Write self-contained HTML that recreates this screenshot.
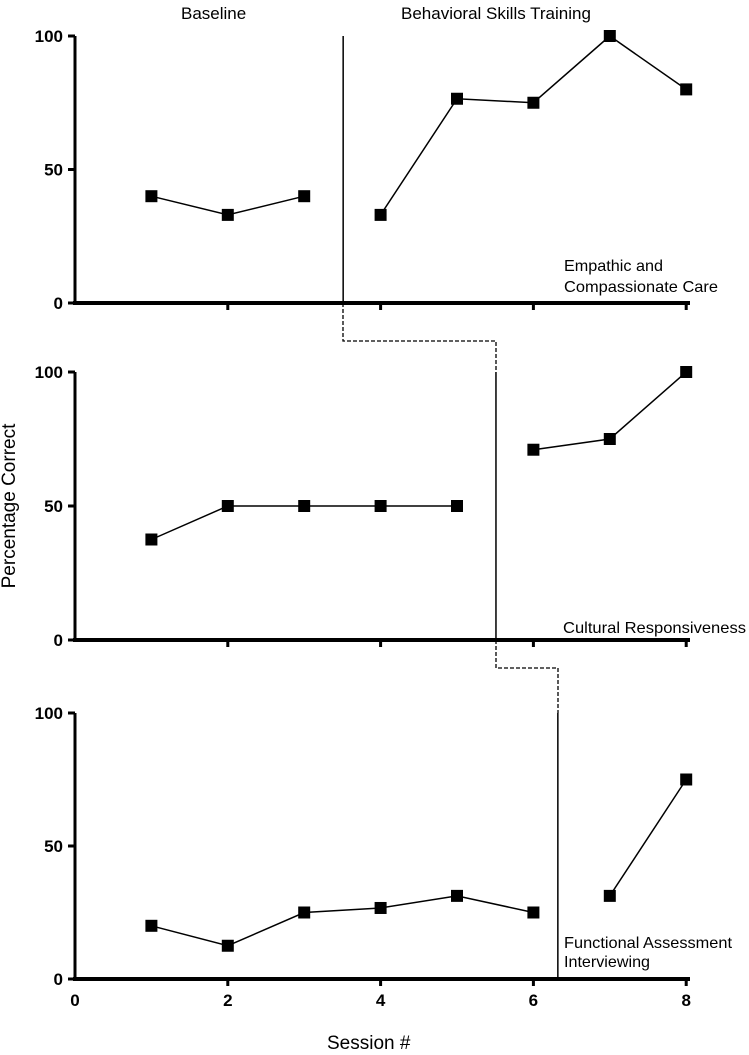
<!DOCTYPE html>
<html><head><meta charset="utf-8"><style>body{margin:0;background:#fff}svg{display:block;font-family:"Liberation Sans",Arial,sans-serif}</style></head>
<body>
<svg id="c" width="749" height="1055"></svg>
<script>
const sessions=[1,2,3,4,5,6,7,8];
const empathy=[40,33,40,33,76.5,75,100,80];
const cultural=[37.5,50,50,50,50,71,75,100];
const functional=[20,12.5,25,26.7,31.25,25,31.25,75];
const xTicks=[0,2,4,6,8];
const yTicks=[0,50,100];
const phaseChange=[3.51,5.51,6.32];
const NS="http://www.w3.org/2000/svg";
const svg=document.getElementById('c');
const X=v=>75+v*76.4;
const panels=[
 {top:36,bot:303,data:empathy,split:3,name:'empathy',label:['Empathic and','Compassionate Care'],ly:[271,292],lx:564,lw:[99,154]},
 {top:372,bot:640,data:cultural,split:5,name:'cultural',label:['Cultural Responsiveness'],ly:[633],lx:563,lw:[183]},
 {top:713,bot:979,data:functional,split:6,name:'functional',label:['Functional Assessment','Interviewing'],ly:[948,967],lx:564,lw:[168,86]}
];
function el(t,a,txt){const e=document.createElementNS(NS,t);for(const k in a)e.setAttribute(k,a[k]);if(txt!=null)e.textContent=txt;svg.appendChild(e);return e;}
panels.forEach((p,pi)=>{
 const Y=v=>p.bot-v/100*(p.bot-p.top);
 let e=el('line',{x1:75,y1:p.top,x2:75,y2:p.bot+2,stroke:'#000','stroke-width':3});
 
 
 e=el('line',{x1:73,y1:p.bot,x2:690,y2:p.bot,stroke:'#000','stroke-width':4});
 
 
 xTicks.forEach(t=>{if(t>0){const k=el('line',{x1:X(t),y1:p.bot,x2:X(t),y2:p.bot+7,stroke:'#000','stroke-width':3});}
  if(pi==2){const l=el('text',{x:X(t),y:1006,'text-anchor':'middle','font-size':17,'font-weight':'bold'},t);}});
 yTicks.forEach(t=>{const k=el('line',{x1:68,y1:Y(t),x2:75,y2:Y(t),stroke:'#000','stroke-width':3});
  const l=el('text',{x:63,y:Y(t)+6,'text-anchor':'end','font-size':17,'font-weight':'bold'},t);});
 const segs=[[0,p.split],[p.split,8]];
 segs.forEach(([a,b])=>{const pts=[];for(let i=a;i<b;i++)pts.push(X(sessions[i])+','+Y(p.data[i]));
  let ln=el('polyline',{points:pts.join(' '),fill:'none',stroke:'#000','stroke-width':1.5});
  });
 for(let i=0;i<8;i++){const r=el('rect',{x:X(sessions[i])-6,y:Y(p.data[i])-6,width:12,height:12,fill:'#000'});
  }
 p.label.forEach((s,j)=>{const t=el('text',{x:p.lx,y:p.ly[j],'font-size':16,textLength:p.lw[j],lengthAdjust:'spacingAndGlyphs'},s);});
 const px=X(phaseChange[pi]);
 const pl=el('line',{x1:px,y1:p.top,x2:px,y2:p.bot,stroke:'#000','stroke-width':1.5});
 
});
const d1=el('polyline',{points:'343,303 343,341 496,341 496,372',fill:'none',stroke:'#000','stroke-width':1.3,'stroke-dasharray':'4,2'});

const d2=el('polyline',{points:'496,640 496,668 558,668 558,713',fill:'none',stroke:'#000','stroke-width':1.3,'stroke-dasharray':'4,2'});

</script>
<div style="position:absolute;left:0;top:0;width:749px;height:1055px;pointer-events:none;font-family:'Liberation Sans',Arial,sans-serif">
<div style="position:absolute;left:181px;top:4px;font-size:17px">Baseline</div>
<div style="position:absolute;left:401px;top:4px;font-size:17px">Behavioral Skills Training</div>
<div style="position:absolute;left:-80px;top:495px;width:180px;text-align:center;font-size:19px;transform:rotate(-90deg)">Percentage Correct</div>
<div style="position:absolute;left:327px;top:1033px;font-size:19px">Session #</div>
</div>
</body></html>
